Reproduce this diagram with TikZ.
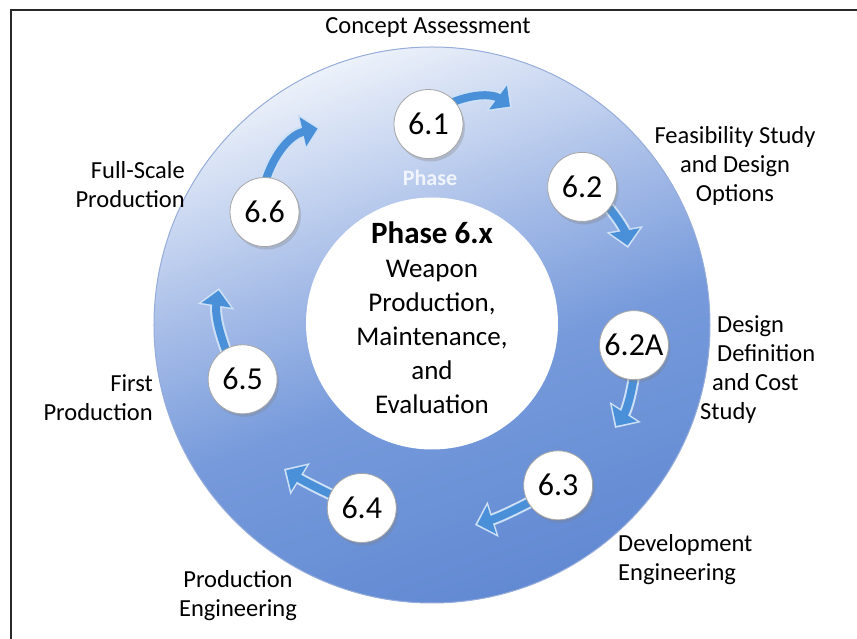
\documentclass[tikz,border=0pt]{standalone}
\usepackage{fontspec}
\setmainfont{Carlito}
\usetikzlibrary{arrows.meta,shadows}
\definecolor{ringtop}{RGB}{236,241,250}
\definecolor{ringhigh}{RGB}{164,187,231}
\definecolor{ringmid}{RGB}{118,154,219}
\definecolor{ringbot}{RGB}{98,138,211}
\definecolor{ringedge}{RGB}{150,172,218}
\definecolor{flowblue}{RGB}{74,144,216}
\definecolor{flowrim}{RGB}{205,224,246}
\definecolor{framegray}{RGB}{40,40,40}
\pgfdeclareverticalshading{ringshade}{100bp}{color(0bp)=(ringbot); color(25bp)=(ringbot);
  color(45bp)=(ringmid); color(57bp)=(ringhigh); color(75bp)=(ringtop); color(100bp)=(ringtop)}
\pgfdeclarelayer{ringlayer}
\pgfdeclarelayer{flowlayer}
\pgfsetlayers{ringlayer,flowlayer,main}

\begin{document}
\begin{tikzpicture}[x=1pt, y=1pt,
  phasedot/.style={circle, fill=white, draw=black!35, line width=0.8pt,
    minimum size=69pt, inner sep=0pt, font=\fontsize{32}{36}\selectfont,
    drop shadow={shadow xshift=2pt, shadow yshift=-3pt, opacity=0.3}},
  flowedge/.style={line width=12pt, draw=flowrim, shorten <=-6pt,
    -{Triangle[width=36pt,length=19pt]}},
  flowbody/.style={line width=8pt, draw=flowblue, shorten <=-6pt, shorten >=2.5pt,
    -{Triangle[width=29pt,length=15pt]}},
  stagetext/.style={font=\fontsize{24.5}{29}\selectfont, inner sep=0pt},
  hubtext/.style={font=\fontsize{27}{34}\selectfont, inner sep=0pt, align=center}]

% --- page size and frame ------------------------------------------
\useasboundingbox (-432,-314) rectangle (425,325);
\draw[framegray, line width=1.5pt] (-421,-314) -- (-421,315) -- (425,315);

% --- shaded ring ----------------------------------------------------
\begin{pgfonlayer}{ringlayer}
\shadedraw[shading=ringshade, shading angle=20, draw=ringedge, line width=1pt]
  (0,0) circle (278);
\end{pgfonlayer}

% --- hub in the middle ---------------------------------------------
\node[circle, fill=white, minimum size=252pt, inner sep=0pt] (hub) at (0,1.5) {};
\node[hubtext] (hubtitle) at ([yshift=6pt]hub.center)
  {{\fontsize{31}{34}\selectfont\bfseries Phase 6.x}\\Weapon\\Production,\\Maintenance,\\and\\Evaluation};
\node[font=\fontsize{22}{24}\selectfont\bfseries, text=white, opacity=0.8] (ringword) at (-2,147) {Phase};

% --- the seven steps (angle/radius round the ring) ----------------
\foreach \ang/\rad/\id/\num in {91/201/p1/6.1, 42.6/204/p2/6.2, -5.7/203/p2a/6.2A,
    -51.8/204/p3/6.3, -111/196/p4/6.4, -164/197/p5/6.5, 146/202/p6/6.6}
  \node[phasedot] (\id) at (\ang:\rad) {\num};

% --- arrow tips -----------------------------------------------------
\coordinate (t1) at (80,217);
\coordinate (t2) at (196,77);
\coordinate (t2a) at (183,-103);
\coordinate (t3) at (43,-200);
\coordinate (t4) at (-148,-144);
\coordinate (t5) at (-213,37);
\coordinate (t6) at (-112,197);

\begin{pgfonlayer}{flowlayer}
\foreach \from/\to/\bend in {p1/t1/30, p2/t2/15, p2a/t2a/12, p3/t3/5,
    p4/t4/3, p5/t5/15, p6/t6/30} {
  \draw[flowedge] (\from) to[bend left=\bend] (\to);
  \draw[flowbody] (\from) to[bend left=\bend] (\to);
}
\end{pgfonlayer}

% --- stage names ----------------------------------------------------
\node[stagetext] (concept) at (-4,297) {Concept Assessment};
\node[stagetext, align=center] (feasible) at (303,159) {Feasibility Study\\and Design\\Options};
\node[stagetext, align=left, anchor=west] (definition) at (268,-45)
  {\hspace{17pt}Design\\\hspace{17pt}Definition\\\hspace{12pt}and Cost\\Study};
\node[stagetext, align=left, anchor=west] (development) at (186,-235) {Development\\Engineering};
\node[stagetext, align=center] (prodeng) at (-194,-271) {Production\\Engineering};
\node[stagetext, align=right, anchor=east] (first) at (-279,-73) {First\\Production};
\node[stagetext, align=right, anchor=east] (fullscale) at (-247,140) {Full-Scale\\Production\hspace{13pt}};

\end{tikzpicture}
\end{document}
